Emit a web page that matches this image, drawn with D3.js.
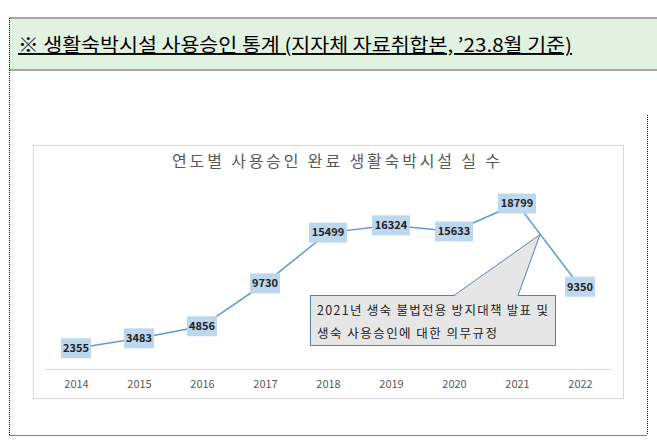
<!DOCTYPE html><html><head><meta charset="utf-8"><script src="https://cdn.jsdelivr.net/npm/d3@7"></script>
<style>body{margin:0;background:#fff}</style></head><body><svg id="c" width="657" height="446"></svg>
<script>
const years=["2014","2015","2016","2017","2018","2019","2020","2021","2022"];
const values=[2355,3483,4856,9730,15499,16324,15633,18799,9350];
const svg=d3.select("#c");
const font="'Noto Sans CJK KR','Noto Sans',sans-serif";
// header
svg.append("rect").attr("x",9).attr("y",18).attr("width",648).attr("height",52).attr("fill","#e2f2e0");
svg.append("line").attr("x1",9).attr("x2",657).attr("y1",18).attr("y2",18).attr("stroke","#a6a6a6").attr("stroke-width",2);
svg.append("line").attr("x1",9).attr("x2",657).attr("y1",70).attr("y2",70).attr("stroke","#a6a6a6").attr("stroke-width",2);
svg.append("text").attr("x",18).attr("y",52).attr("font-family","'Liberation Sans Narrow','Noto Sans CJK KR',sans-serif").attr("font-size",19).attr("text-decoration","underline").attr("fill","#000").attr("textLength",436+118).attr("lengthAdjust","spacingAndGlyphs").text("※ 생활숙박시설 사용승인 통계 (지자체 자료취합본, ’23.8월 기준)");
// dotted borders
function dl(x1,y1,x2,y2){svg.append("line").attr("x1",x1).attr("y1",y1).attr("x2",x2).attr("y2",y2).attr("stroke","#000").attr("stroke-dasharray","1,1");}
dl(9.5,18,9.5,435);dl(647.5,115,647.5,435);dl(9.5,435.5,647.5,435.5);
// chart box
svg.append("rect").attr("x",33.5).attr("y",145.5).attr("width",590).attr("height",253).attr("fill","#fff").attr("stroke","#d9d9d9");
svg.append("text").attr("x",336).attr("y",167).attr("text-anchor","middle").attr("font-family",font).attr("font-size",16).attr("fill","#595959").attr("textLength",328).attr("lengthAdjust","spacing").text("연도별 사용승인 완료 생활숙박시설 실 수");
const x=d3.scalePoint().domain(years).range([76,580]);
const y=d3.scaleLinear().domain([0,20000]).range([369,193]);
svg.append("line").attr("x1",45).attr("x2",612).attr("y1",369.5).attr("y2",369.5).attr("stroke","#d9d9d9");
const ax=svg.append("g").attr("transform","translate(0,369)").call(d3.axisBottom(x).tickSize(0).tickPadding(11));
ax.select(".domain").remove();
ax.selectAll("text").attr("font-family",font).attr("font-size",11).attr("fill","#595959");
svg.append("path").attr("d",d3.line()(years.map((d,i)=>[x(d),y(values[i])]))).attr("fill","none").attr("stroke","#5b9bd5").attr("stroke-width",1.5);
// callout
const cb={x:310,y:295,w:245,h:50};
const tip=[x("2021")+23,y(18799)+31];
svg.append("rect").attr("x",cb.x+0.5).attr("y",cb.y+0.5).attr("width",cb.w).attr("height",cb.h).attr("fill","#e7e6e6").attr("stroke","#5a7fa8");
svg.append("polygon").attr("points",`${cb.x+144},${cb.y+1} ${tip[0]},${tip[1]} ${cb.x+208},${cb.y+1}`).attr("fill","#e7e6e6");
svg.append("polyline").attr("points",`${cb.x+144},${cb.y+0.5} ${tip[0]},${tip[1]} ${cb.x+208},${cb.y+0.5}`).attr("fill","none").attr("stroke","#5a7fa8");
svg.append("text").attr("x",cb.x+7).attr("y",cb.y+20).attr("font-family",font).attr("font-size",12.5).attr("fill","#222").attr("textLength",231).attr("lengthAdjust","spacing").text("2021년 생숙 불법전용 방지대책 발표 및");
svg.append("text").attr("x",cb.x+7).attr("y",cb.y+43).attr("font-family",font).attr("font-size",12.5).attr("fill","#222").attr("textLength",180).attr("lengthAdjust","spacing").text("생숙 사용승인에 대한 의무규정");
// labels
const g=svg.selectAll("g.lb").data(values).enter().append("g").attr("transform",(d,i)=>`translate(${x(years[i])},${y(d)})`);
g.append("rect").attr("x",d=>d>=10000?-19:-15).attr("y",-10).attr("width",d=>d>=10000?38:30).attr("height",20).attr("fill","#bdd7ee");
g.append("text").attr("text-anchor","middle").attr("dy","0.35em").attr("font-family",font).attr("font-weight","bold").attr("font-size",11).attr("fill","#222").text(d=>d);
</script></body></html>
